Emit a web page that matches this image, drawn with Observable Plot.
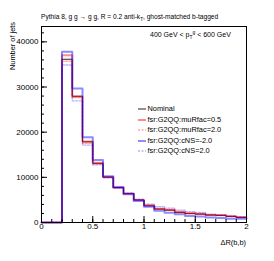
<!DOCTYPE html>
<html><head><meta charset="utf-8">
<script src="https://cdn.jsdelivr.net/npm/d3@7"></script>
<script src="https://cdn.jsdelivr.net/npm/@observablehq/plot@0.6"></script>
<style>
body{margin:0;background:#fff;}
#wrap{position:relative;width:274px;height:261px;font-family:"Liberation Sans",Arial,sans-serif;color:#000;}
.t{position:absolute;white-space:nowrap;line-height:1;}
.t sub,.t sup{font-size:70%;line-height:0;}
.leg{position:absolute;left:138px;font-size:7.4px;line-height:1;white-space:nowrap;}
.leg svg{vertical-align:middle;margin-right:1.5px;}
</style></head><body><div id="wrap"></div>
<script>
// bin lower edges start at 0.2, width 0.1, up to 2.0
const binEdges = [0.2,0.3,0.4,0.5,0.6,0.7,0.8,0.9,1.0,1.1,1.2,1.3,1.4,1.5,1.6,1.7,1.8,1.9];
const nominal   = [36150,27950,17870,13100,10050,7750,6400,4980,3700,2980,2720,2230,2000,1850,1640,1560,1340,1120];
const muR05     = [37030,27900,17950,13250,10100,7700,6380,5000,3750,3000,2760,2250,2020,1870,1660,1580,1360,1140];
const muR20     = [35700,27650,17550,12950,9950,7650,6450,5050,3850,3200,2900,2450,2150,1950,1720,1620,1380,1200];
const cNSm2     = [37830,29650,18900,13850,10250,7850,6250,4780,3470,2600,2150,1850,1420,1330,1110,970,830,820];
const cNSp2     = [34880,26950,17150,12750,9900,7600,6550,5150,4070,3500,3190,2740,2430,2210,1850,1700,1420,1260];
const seriesNames = ["Nominal","fsr:G2QQ:muRfac=0.5","fsr:G2QQ:muRfac=2.0","fsr:G2QQ:cNS=-2.0","fsr:G2QQ:cNS=2.0"];
const yMajor = [0,10000,20000,30000,40000];
const xMajor = [0,0.5,1,1.5,2];

const styles = [
  {stroke:"#000000", strokeOpacity:0.85, strokeWidth:1},
  {stroke:"#ff0000", strokeOpacity:0.45, strokeWidth:2},
  {stroke:"#ff0000", strokeOpacity:0.35, strokeWidth:1.3, strokeDasharray:"2,1.5"},
  {stroke:"#0000ff", strokeOpacity:0.45, strokeWidth:2},
  {stroke:"#0000ff", strokeOpacity:0.3, strokeWidth:1.3, strokeDasharray:"2,1.5"}
];
const allValues = [nominal, muR05, muR20, cNSm2, cNSp2];

function histPoints(values){
  const pts = [{x:0, y:0}];
  binEdges.forEach((e,i)=>pts.push({x:e, y:values[i]}));
  pts.push({x:binEdges[binEdges.length-1]+0.1, y:values[values.length-1]});
  return pts;
}

const lineMarks = allValues.map((v,i)=>Plot.line(histPoints(v), {x:"x", y:"y", curve:"step-after", ...styles[i]}));

const chart = Plot.plot({
  width:274, height:261,
  marginLeft:41, marginRight:28, marginTop:26, marginBottom:39,
  style:{fontFamily:"Liberation Sans, Arial, sans-serif", background:"#fff", overflow:"visible"},
  x:{domain:[0,2]},
  y:{domain:[0,43400]},
  marks:[
    ...lineMarks,
    Plot.frame({stroke:"#000", strokeWidth:1}),
    Plot.axisY(yMajor, {tickSize:-6, tickPadding:9, fontSize:8, tickFormat:d3.format("d"), label:null, strokeWidth:1}),
    Plot.axisY(d3.range(0, 43001, 2000), {tickSize:-3, tickFormat:()=>"" , label:null}),
    Plot.axisX(xMajor, {tickSize:-6, tickPadding:7, fontSize:8, tickFormat:d=>String(d), label:null}),
    Plot.axisX(d3.range(0, 2.001, 0.1), {tickSize:-3, tickFormat:()=>"", label:null})
  ]
});
const wrap = document.getElementById("wrap");
wrap.appendChild(chart);

function addText(html, css){
  const d = document.createElement("div");
  d.className = "t"; d.innerHTML = html; Object.assign(d.style, css);
  wrap.appendChild(d); return d;
}
addText("Pythia 8, g g → g g, R = 0.2 anti-k<sub>T</sub>, ghost-matched b-tagged", {left:"41px", top:"14px", fontSize:"6.6px"});
addText("400 GeV &lt; p<sub>T</sub><sup>g</sup> &lt; 600 GeV", {left:"150px", top:"31px", fontSize:"7px"});
addText("ΔR(b,b)", {right:"28px", top:"239px", fontSize:"7.4px"});
addText("Number of jets", {right:"265px", top:"22px", fontSize:"7.4px", transformOrigin:"right top", transform:"rotate(-90deg)"});

const legTops = [105, 115.5, 126, 136.5, 147];
seriesNames.forEach((n,i)=>{
  const d = document.createElement("div");
  d.className = "leg"; d.style.top = legTops[i] + "px";
  const s = styles[i];
  d.innerHTML = `<svg width="8" height="8"><line x1="0" x2="8" y1="4" y2="4" stroke="${s.stroke}" stroke-opacity="${s.strokeOpacity}" stroke-width="${s.strokeWidth}" ${s.strokeDasharray?`stroke-dasharray="${s.strokeDasharray}"`:""}/></svg>${n}`;
  wrap.appendChild(d);
});
</script></body></html>
